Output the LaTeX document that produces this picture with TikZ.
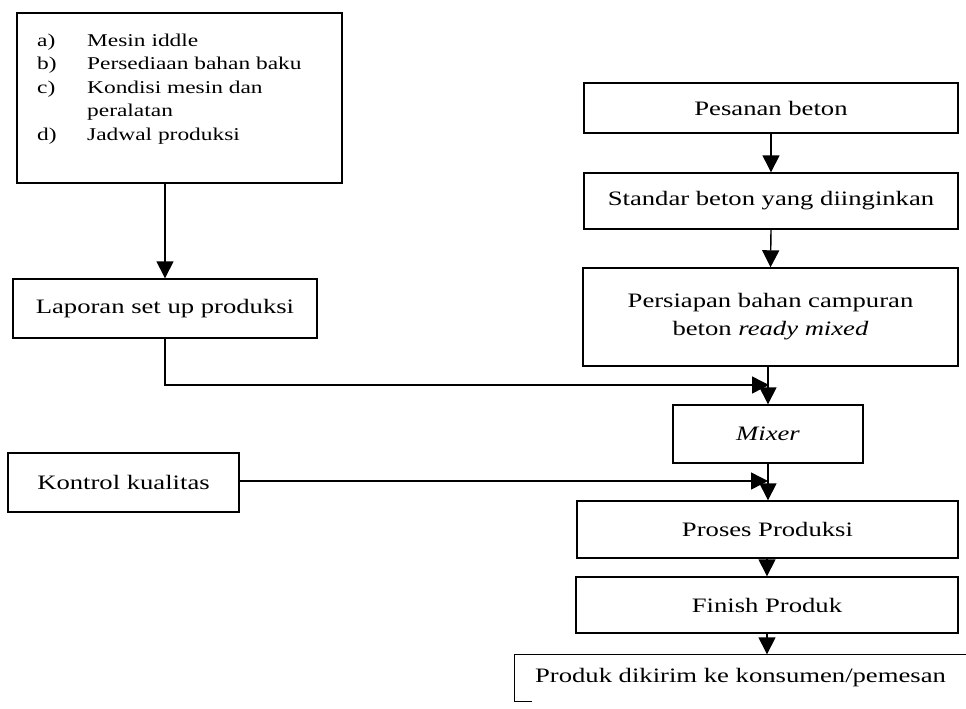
\documentclass[tikz,border=0pt]{standalone}
\usepackage{fontspec}
\setmainfont{Liberation Serif}[FakeStretch=1.3]
\usetikzlibrary{arrows.meta}
\begin{document}
\begin{tikzpicture}[x=1pt,y=-1pt,
  box/.style={draw, line width=1.4pt, rectangle, inner sep=0pt,
    font=\fontsize{20.5}{28}\selectfont, align=center},
  openbox/.style={box, draw=none},
  edge/.style={line width=1.4pt},
  arr/.style={line width=1.4pt, -{Triangle[width=17pt,length=17pt]}}]
\useasboundingbox (0,0) rectangle (966,709);

% left column
\node[box, minimum width=325pt, minimum height=170pt] (lst) at (179.5,98) {};
\node[anchor=north west, inner sep=0pt, font=\fontsize{18}{23.5}\selectfont] (lsttext) at (37,29.5)
  {\begin{tabular}{@{}p{50pt}@{}l@{}}
   a) & Mesin iddle\\
   b) & Persediaan bahan baku\\
   c) & Kondisi mesin dan\\
      & peralatan\\
   d) & Jadwal produksi
   \end{tabular}};
\node[box, minimum width=304pt, minimum height=59pt] (lap) at (165,308.5) {Laporan set up produksi};
\node[box, minimum width=231pt, minimum height=59pt] (kon) at (123.5,482.5) {Kontrol kualitas};

% right column
\node[box, minimum width=374pt, minimum height=50pt] (pes) at (771,108) {Pesanan beton};
\node[box, minimum width=374pt, minimum height=56pt] (std) at (771,201) {Standar beton yang diinginkan};
\node[box, minimum width=375pt, minimum height=98pt] (pers) at (770.5,317)
  {Persiapan bahan campuran\\ beton \textit{ready mixed}};
\node[box, minimum width=190pt, minimum height=58pt] (mix) at (768,434) {\textit{Mixer}};
\node[box, minimum width=381pt, minimum height=57pt] (pro) at (767.5,529.5) {Proses Produksi};
\node[box, minimum width=382pt, minimum height=56pt] (fin) at (767,605) {Finish Produk};

% last box runs off the page on the right; only its top, left side
% and a short piece of its bottom are drawn
\node[openbox, minimum width=451pt, minimum height=46pt] (out) at (740.5,678) {Produk dikirim ke konsumen/pemesan};
\draw[edge] ([xshift=18pt]out.south west) -- (out.south west) -- (out.north west) -- (out.north east);

% junctions on the main flow line
\coordinate (j1) at (769,385);
\coordinate (j2) at (768,481);

% connectors
\draw[arr] (lap.north |- lst.south) -- (lap.north);
\draw[arr] (pes.south) -- (std.north);
\draw[arr] (std.south) -- (pers.north);
\draw[arr] (pers.south -| mix.north) -- (mix.north);
\draw[arr] (lap.south) |- (j1);
\draw[arr] (mix.south) -- (pro.north -| mix.south);
\draw[arr] (kon.east |- j2) -- (j2);
\draw[arr] (pro.south -| fin.north) -- (fin.north);
\draw[arr] (fin.south) -- (out.north -| fin.south);
\end{tikzpicture}
\end{document}
